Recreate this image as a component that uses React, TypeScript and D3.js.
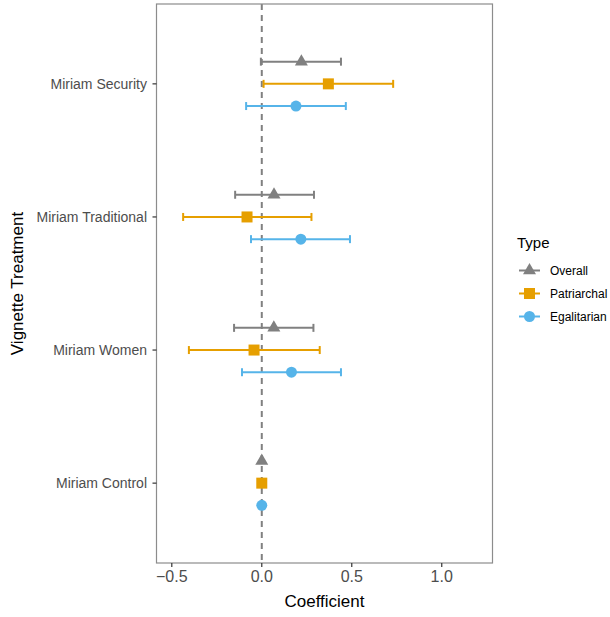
import React from "react";
import * as d3 from "d3";

const categories = ["Miriam Security", "Miriam Traditional", "Miriam Women", "Miriam Control"];
const types = ["Overall", "Patriarchal", "Egalitarian"];
const colors = ["#808080", "#E69F00", "#56B4E9"];
// estimates, lower, upper per type, in category order
const overallEst = [0.22, 0.068, 0.067, 0];
const overallLo = [-0.005, -0.148, -0.154, 0];
const overallHi = [0.44, 0.29, 0.287, 0];
const patriarchalEst = [0.37, -0.082, -0.043, 0];
const patriarchalLo = [0.01, -0.437, -0.405, 0];
const patriarchalHi = [0.73, 0.276, 0.322, 0];
const egalitarianEst = [0.19, 0.217, 0.165, 0];
const egalitarianLo = [-0.087, -0.06, -0.11, 0];
const egalitarianHi = [0.467, 0.49, 0.44, 0];
const xTicks = [-0.5, 0, 0.5, 1.0];

const series = [
  { est: overallEst, lo: overallLo, hi: overallHi },
  { est: patriarchalEst, lo: patriarchalLo, hi: patriarchalHi },
  { est: egalitarianEst, lo: egalitarianLo, hi: egalitarianHi },
];

const W = 610, H = 617;
const pL = 156.5, pR = 492.5, pT = 4, pB = 563;
const font = "Liberation Sans, Arial, sans-serif";

function Shape({ kind, x, y, color }: { kind: number; x: number; y: number; color: string }) {
  if (kind === 0) {
    const s = 13;
    const h = s * Math.sqrt(3) / 2;
    const pts = [[x, y - h * 2 / 3], [x - s / 2, y + h / 3], [x + s / 2, y + h / 3]];
    return <polygon points={pts.map(p => p.join(",")).join(" ")} fill={color} />;
  }
  if (kind === 1) return <rect x={x - 5.5} y={y - 5.5} width={11} height={11} fill={color} />;
  return <circle cx={x} cy={y} r={5.5} fill={color} />;
}

export default function App() {
  const x = d3.scaleLinear().domain([-0.585, 1.282]).range([pL, pR]);
  const y = d3.scaleLinear().domain([0.4, 4.6]).range([pT, pB]);
  const dodge = [-0.5 / 3, 0, 0.5 / 3];
  return (
    <svg width={W} height={H} style={{ position: "absolute", left: 0, top: 0 }}>
      <rect x={0} y={0} width={W} height={H} fill="white" />
      <line x1={x(0)} x2={x(0)} y1={pT} y2={pB} stroke="#808080" strokeWidth={2} strokeDasharray="6,5" />
      {series.map((s, si) =>
        categories.map((c, ci) => {
          const yy = y(ci + 1 + dodge[si]);
          const col = colors[si];
          return (
            <g key={si + "-" + ci}>
              {s.hi[ci] !== s.lo[ci] && (
                <g stroke={col} strokeWidth={2}>
                  <line x1={x(s.lo[ci])} x2={x(s.hi[ci])} y1={yy} y2={yy} />
                  <line x1={x(s.lo[ci])} x2={x(s.lo[ci])} y1={yy - 4} y2={yy + 4} />
                  <line x1={x(s.hi[ci])} x2={x(s.hi[ci])} y1={yy - 4} y2={yy + 4} />
                </g>
              )}
              <Shape kind={si} x={x(s.est[ci])} y={yy} color={col} />
            </g>
          );
        })
      )}
      <rect x={pL} y={pT} width={pR - pL} height={pB - pT} fill="none" stroke="#8c8c8c" strokeWidth={1.2} />
      {categories.map((c, ci) => (
        <g key={c}>
          <line x1={pL - 4} x2={pL} y1={y(ci + 1)} y2={y(ci + 1)} stroke="#333" strokeWidth={1.2} />
          <text x={pL - 9.5} y={y(ci + 1)} dy="0.35em" textAnchor="end" fontFamily={font} fontSize={14} fill="#4d4d4d">{c}</text>
        </g>
      ))}
      {xTicks.map(t => (
        <g key={t}>
          <line x1={x(t)} x2={x(t)} y1={pB} y2={pB + 4} stroke="#333" strokeWidth={1.2} />
          <text x={x(t)} y={pB + 19} textAnchor="middle" fontFamily={font} fontSize={16} fill="#4d4d4d">{d3.format(".1f")(t)}</text>
        </g>
      ))}
      <text x={(pL + pR) / 2} y={607} textAnchor="middle" fontFamily={font} fontSize={17} fill="black">Coefficient</text>
      <text transform={`translate(23,${(pT + pB) / 2}) rotate(-90)`} textAnchor="middle" fontFamily={font} fontSize={17} fill="black">Vignette Treatment</text>
      <text x={517} y={248} fontFamily={font} fontSize={15} fill="black">Type</text>
      {types.map((t, i) => {
        const ly = 270.5 + i * 23;
        return (
          <g key={t}>
            <line x1={519} x2={540} y1={ly} y2={ly} stroke={colors[i]} strokeWidth={2} />
            <Shape kind={i} x={529.5} y={ly} color={colors[i]} />
            <text x={550} y={ly} dy="0.35em" fontFamily={font} fontSize={12} fill="black">{t}</text>
          </g>
        );
      })}
    </svg>
  );
}
